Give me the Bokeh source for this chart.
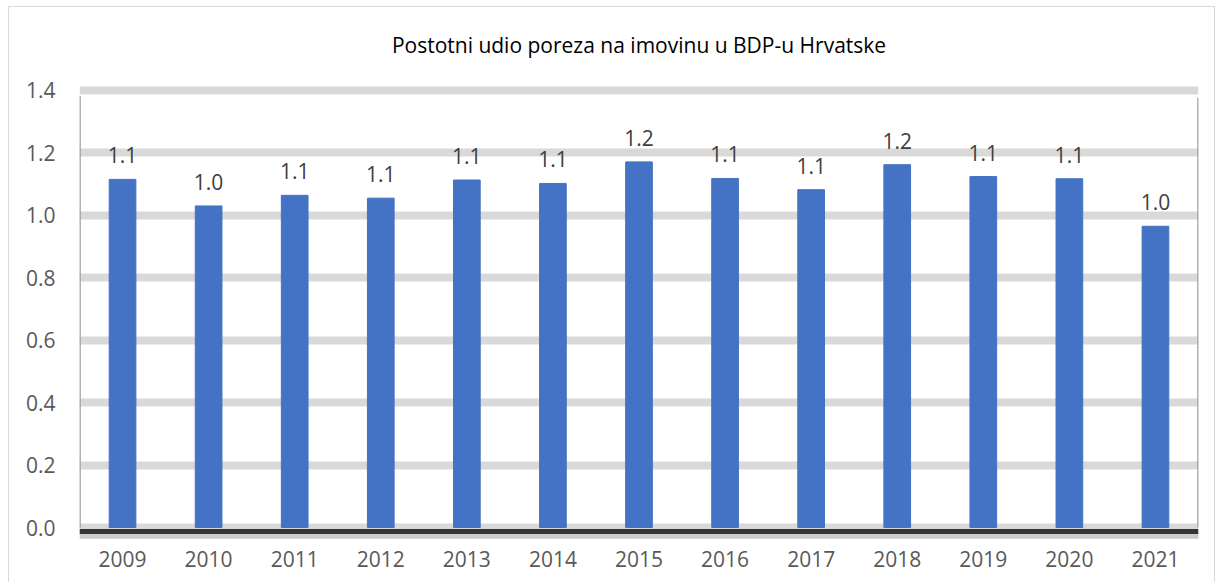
from bokeh.plotting import figure
from bokeh.models import Range1d, FixedTicker, PrintfTickFormatter, ColumnDataSource
from bokeh.core.properties import value
from bokeh.embed import file_html
from bokeh.resources import INLINE

title = "Postotni udio poreza na imovinu u BDP-u Hrvatske"
years = [2009, 2010, 2011, 2012, 2013, 2014, 2015, 2016, 2017, 2018, 2019, 2020, 2021]
values = [1.114, 1.029, 1.063, 1.054, 1.112, 1.101, 1.170, 1.117, 1.081, 1.161, 1.123, 1.116, 0.964]
y_ticks = [0.0, 0.2, 0.4, 0.6, 0.8, 1.0, 1.2, 1.4]

labels = [f"{v:.1f}" for v in values]
src = ColumnDataSource(dict(x=years, top=values, label=labels))

FONT = "Open Sans"

p = figure(width=1223, height=582, output_backend="svg", toolbar_location=None,
           x_range=Range1d(years[0] - 0.5, years[-1] + 0.5),
           y_range=Range1d(-0.0416, 1.4176),
           min_border_left=79, min_border_right=25, min_border_top=84, min_border_bottom=42)
p.outline_line_color = None
p.border_fill_color = None
p.background_fill_color = "white"
g = "linear-gradient(#d9d9d9,#d9d9d9)"
p.styles = {"background": f"{g} 8px 6px / 1px 576px no-repeat, {g} 8px 6px / 1207px 1px no-repeat, "
                          f"{g} 1214px 6px / 1px 576px no-repeat, white"}

p.title.text = title
p.title.align = "center"
p.title.text_font = FONT
p.title.text_font_size = "21px"
p.title.text_font_style = "normal"
p.title.text_color = "#000000"
p.title.standoff = 51

# grid
p.xgrid.visible = False
p.ygrid.ticker = FixedTicker(ticks=y_ticks)
p.ygrid.grid_line_color = "#d9d9d9"
p.ygrid.grid_line_width = 8

# axes
for ax in (p.xaxis[0], p.yaxis[0]):
    ax.axis_line_color = None
    ax.major_tick_line_color = None
    ax.minor_tick_line_color = None
    ax.major_label_text_font = FONT
    ax.major_label_text_font_size = "21px"
    ax.major_label_text_color = "#595959"
p.yaxis.ticker = FixedTicker(ticks=y_ticks)
p.yaxis.formatter = PrintfTickFormatter(format="%.1f")
p.yaxis.major_label_standoff = 18
p.xaxis.ticker = FixedTicker(ticks=years)
p.xaxis.formatter = PrintfTickFormatter(format="%d")
p.xaxis.major_label_standoff = 4

# plot-area shadow decorations
x_left = years[0] - 0.5
x_right = years[-1] + 0.5
p.segment(x0=[x_left], y0=[0.0], x1=[x_left], y1=[1.38], line_color="#a0a0a0", line_width=3, line_alpha=0.8)
p.segment(x0=[x_right], y0=[0.0], x1=[x_right], y1=[1.375], line_color="#a0a0a0", line_width=3, line_alpha=0.8)
p.segment(x0=[x_left], y0=[-0.026], x1=[x_right + 0.03], y1=[-0.026], line_color="#8a8a8a", line_width=6, line_alpha=0.45)
p.segment(x0=[x_left], y0=[-0.013], x1=[x_right], y1=[-0.013], line_color="#333333", line_width=5)

# bars
p.vbar(x="x", top="top", bottom=0, width=0.31, source=src, fill_color="#4472C4", line_color="#4472C4", line_width=1)

# data labels
p.text(x="x", y="top", text="label", source=src, text_align="center", text_baseline="alphabetic",
       y_offset=-24, text_font=value(FONT), text_font_size="21px", text_color="#404040")

open("out.html", "w").write(file_html(p, INLINE))
